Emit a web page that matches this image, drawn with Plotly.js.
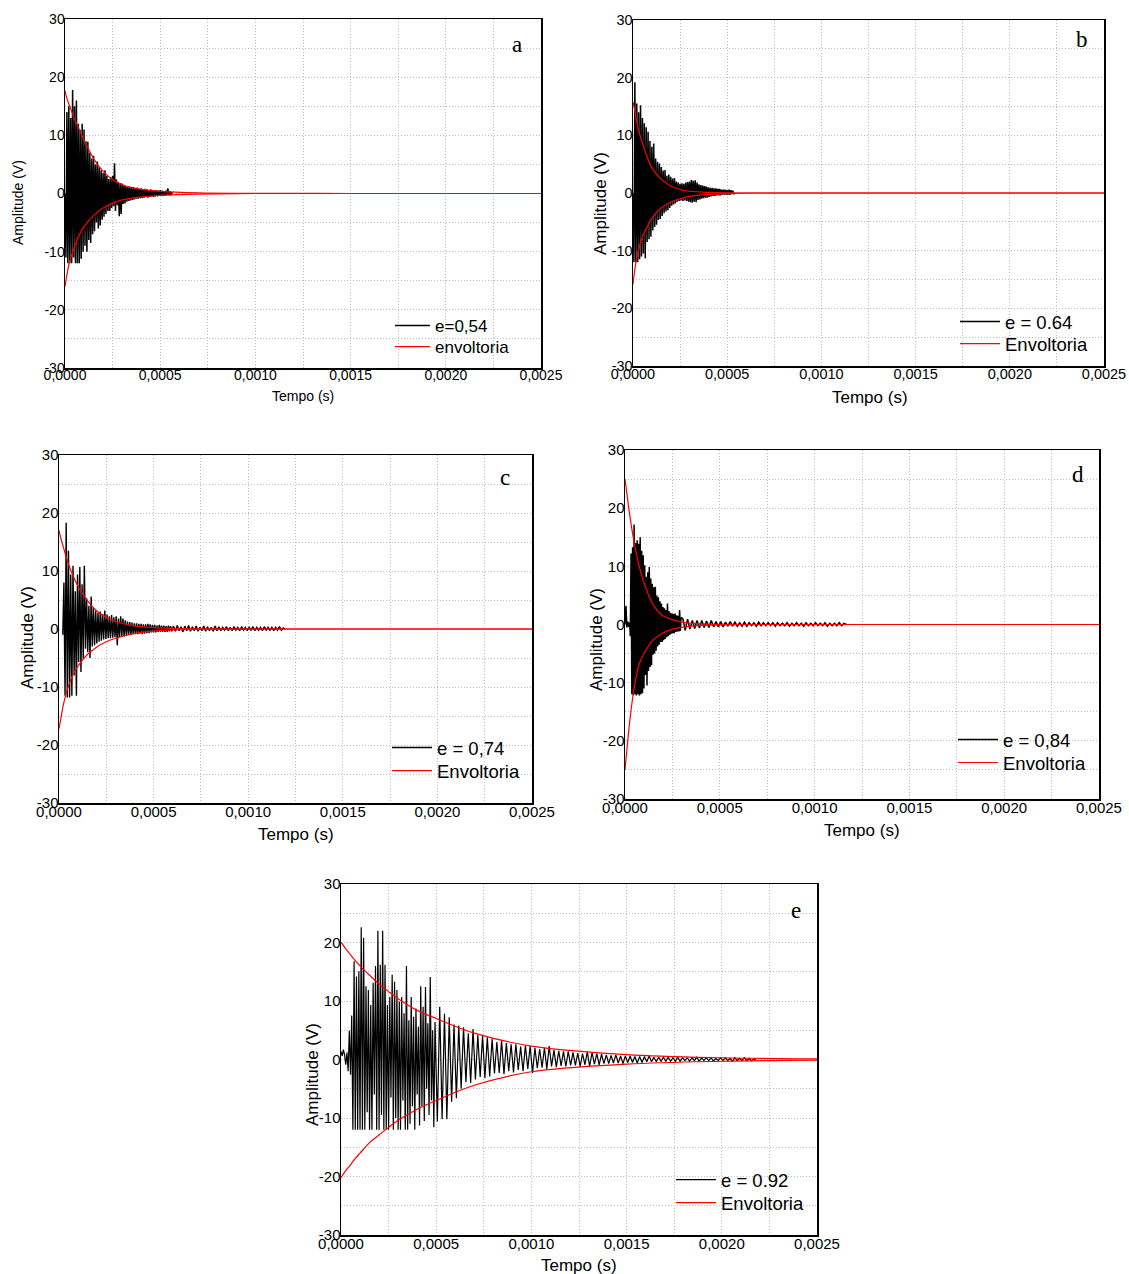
<!DOCTYPE html>
<html><head><meta charset="utf-8">
<script src="https://cdn.plot.ly/plotly-3.0.1.min.js"></script>
<style>html,body{margin:0;padding:0;background:#fff}</style>
</head><body><div id="chart" style="width:1129px;height:1274px"></div>
<script>
// ---------------- DATA ----------------
const xTickVals = [0, 0.0005, 0.0010, 0.0015, 0.0020, 0.0025];
const xTickText = ['0,0000', '0,0005', '0,0010', '0,0015', '0,0020', '0,0025'];
const yTickVals = [-30, -20, -10, 0, 10, 20, 30];
const yTickText = ['-30', '-20', '-10', '0', '10', '20', '30'];

const seriesNames = ['e=0,54', 'e = 0.64', 'e = 0,74', 'e = 0,84', 'e = 0.92'];
const envNames = ['envoltoria', 'Envoltoria', 'Envoltoria', 'Envoltoria', 'Envoltoria'];
const panelLetters = ['a', 'b', 'c', 'd', 'e'];

// envelope sample times (s)
const envT = [0, 1e-5, 2.5e-5, 5e-5, 7.5e-5, 1e-4, 1.5e-4, 2e-4, 2.5e-4, 3e-4, 4e-4, 5e-4, 7e-4, 1e-3, 1.5e-3, 2e-3, 2.5e-3];
const envUpA = [17.7, 16.3, 15, 12.8, 11, 9.2, 6, 3.8, 2.4, 1.5, 0.7, 0.35, 0.1, 0.02, 0, 0, 0];
const envLoA = [-16, -14, -11.6, -9.2, -7.1, -5.7, -3.8, -2.5, -1.65, -1.1, -0.6, -0.3, -0.1, 0, 0, 0, 0];
const envUpB = [15.8, 14.2, 11.5, 8.6, 6.3, 4.4, 2.4, 1.2, 0.6, 0.3, 0.1, 0.03, 0, 0, 0, 0, 0];
const envLoB = [-15.8, -13.2, -10.4, -7.6, -5.9, -4.4, -2.6, -1.6, -1, -0.6, -0.25, -0.1, 0, 0, 0, 0, 0];
const envUpC = [17, 15.6, 13.9, 11.2, 9.1, 7.4, 4.9, 3.1, 2, 1.3, 0.55, 0.25, 0.05, 0, 0, 0, 0];
const envLoC = [-17.2, -15.4, -12.8, -9.8, -7.8, -6.4, -4.4, -3.1, -2.2, -1.6, -0.75, -0.35, -0.08, 0, 0, 0, 0];
const envUpD = [25, 22.5, 18.8, 13.8, 10, 7.2, 3.3, 1.5, 0.85, 0.4, 0.1, 0.03, 0, 0, 0, 0, 0];
const envLoD = [-25, -21.5, -16.6, -10.6, -6.8, -5, -2.6, -1.45, -0.8, -0.5, -0.15, -0.05, 0, 0, 0, 0, 0];
const envUpE = [20, 19.6, 18.9, 17.9, 16.9, 16, 14.4, 12.9, 11.6, 10.4, 8.4, 7, 4.5, 2.3, 0.85, 0.3, 0.1];
const envLoE = [-20.2, -19.7, -19, -18, -16.9, -16, -14.2, -12.9, -11.6, -10.4, -8.5, -7, -4.4, -2.1, -0.8, -0.3, -0.1];

// sampled signals: start time, sample step, values (V)
const sigA_t0 = 0, sigA_dt = 5e-6;
const sigA = [0, -11, 14, -12, 15, -12, 13, -12, 17.8, -11, 15, -12, 16, -12, 12, -12,
  10.9, -11.2, 12, -10, 11, -9, 9, -10,
  8.9, -8, 7, -8.5, 6, -7, 6.5, -6.5,
  5, -5, 5.5, -6, 4.5, -5.5, 4, -4.5,
  3.5, -4, 4, -3.5, 3, -3, 2.5, -3,
  2.8, -2.5, 3, -2.2, 5.2, -3, 2.4, -2,
  2, -3.9, 1.8, -3.5, 1.7, -1.8, 1.5, -1.7,
  1.3, -1.4, 1.2, -1.3, 1.1, -1.2, 1, -1.1,
  1.1, -1, 0.9, -0.9, 1, -0.9, 0.8, -0.8,
  0.9, -0.8, 0.7, -0.7, 0.8, -0.6, 0.7, -0.7,
  0.6, -0.6, 0.7, -0.5, 0.6, -0.6, 0.5, -0.5,
  0.6, -0.5, 0.5, -0.4, 0.6, -0.4, 0.5, -0.4,
  0.4, -0.4, 0.5, -0.3, 0.9, -0.3, 0.4, -0.3, 0.2, 0];

const sigB_t0 = 0, sigB_dt = 5e-6;
const sigB = [0, -12, 19.2, -12, 15.5, -12, 14, -11.5, 15.2, -11,
  13, -10.5, 12.1, -11.3, 11.4, -8.5, 10.6, -8, 9, -7.6,
  8, -6.5, 8.6, -5.9, 6, -5.5, 5.4, -4.7, 5.1, -4.5,
  4.5, -4, 3.9, -3.5, 4, -3.2, 3, -3, 3.2, -2.6,
  2.8, -2.2, 2.5, -2, 2.6, -1.8, 2, -1.5, 1.8, -1.4,
  1.6, -1.3, 1.7, -1.4, 1.6, -1.3, 1.8, -1.4, 1.9, -1.5,
  2, -1.6, 2.3, -1.7, 2.1, -1.5, 2.2, -1.6, 1.8, -1.2,
  1.5, -1.1, 1.4, -1, 1.3, -0.9, 1.2, -0.8, 1.1, -0.8,
  1, -0.7, 0.9, -0.6, 0.9, -0.5, 0.8, -0.5, 0.8, -0.4,
  0.7, -0.4, 0.7, -0.4, 0.6, -0.3, 0.6, -0.3, 0.6, -0.3,
  0.5, -0.3, 0.6, -0.3, 0.5, -0.2, 0.4, -0.2, 0];

const sigC1_t0 = 2e-5, sigC1_dt = 6e-6;
const sigC1 = [-1, 8, -11.5, 18.3, -11.8, 13.5, -11.8, 9.4, -11.5, 10.9,
  -8, 6.5, -11.5, 9.4, -5.7, 10.7, -7.4, 7.7, -5.1, 10.9,
  -3.4, 5.3, -4, 4, -5, 5.6, -3, 3.6, -2.8, 3.2,
  -2.5, 2.8, -2.2, 3, -2, 2.6, -1.8, 3.2, -1.7, 2.5,
  -1.6, 2.2, -1.6, 2.4, -1.5, 2, -1.4, 2.2, -2.8, 1.8,
  -1.4, 2.2, -1.2, 1.8, -1.3, 1.5, -1.1, 1.3, -1, 1.2,
  -1, 1.1, -0.9, 1, -0.9, 1, -0.9, 0.9, -0.8, 0.9,
  -0.9, 0.8, -0.8, 0.8, -0.7, 0.9, -0.7, 0.8, -0.6, 0.7,
  -0.6, 0.7, -0.6, 0.6, -0.5, 0.7, -0.5, 0.6, -0.5, 0.6,
  -0.5, 0.5, -0.5, 0.6, -0.4, 0.5, -0.4];
const sigC2_t0 = 6.05e-4, sigC2_dt = 1e-5;
const sigC2 = [0.5, -0.4, 0.6, -0.3, 0.4, -0.5, 0.5, -0.3, 0.6, -0.4,
  0.4, -0.3, 0.5, -0.4, 0.3, -0.3, 0.5, -0.4, 0.4, -0.3,
  0.3, -0.4, 0.5, -0.3, 0.4, -0.3, 0.3, -0.2, 0.4, -0.3,
  0.3, -0.3, 0.4, -0.2, 0.3, -0.3, 0.4, -0.2, 0.3, -0.3,
  0.3, -0.2, 0.4, -0.3, 0.3, -0.2, 0.3, -0.3, 0.4, -0.2,
  0.3, -0.2, 0.3, -0.3, 0.3, -0.2, 0.4, -0.2, 0.2, 0];

const sigD0_t0 = 0, sigD0_dt = 5e-6;
const sigD0 = [0, 3.2, -0.5, 0.5, -0.4, 0.3];
const sigD1_t0 = 2.8e-5, sigD1_dt = 4e-6;
const sigD1 = [-2, 12.2, -12, 13.3, -12.2, 17.2, -12, 14, -12.2, 14.5,
  -12, 13.9, -12.2, 15, -12, 12.7, -11.8, 11.9, -11, 10.2,
  -8.7, 8.2, -10.5, 9, -8, 9.9, -7.3, 7.9, -7, 7,
  -5.2, 6.4, -5, 6.5, -4.5, 5, -3.8, 4.7, -3.5, 4,
  -3, 3.6, -3, 3, -2.7, 2.8, -2.5, 2.5, -2.2, 3.6,
  -2, 2.3, -1.8, 2, -1.6, 1.9, -1.5, 1.8, -1.5, 1.9,
  -1.3, 1.6, -1.2, 1.5, -1.2, 2.5, -1.1, 1.2];
const sigD2_t0 = 3.05e-4, sigD2_dt = 1.25e-5;
const sigD2 = [1, -1, 0.9, -0.8, 0.7, -0.7, 0.7, -0.6, 0.7, -0.5,
  0.6, -0.5, 0.7, -0.4, 0.5, -0.4, 0.5, -0.4, 0.4, -0.3,
  0.5, -0.3, 0.4, -0.3, 0.3, -0.3, 0.4, -0.3, 0.3, -0.2,
  0.3, -0.3, 0.4, -0.2, 0.3, -0.2, 0.3, -0.2, 0.3, -0.3,
  0.3, -0.2, 0.2, -0.2, 0.3, -0.3, 0.2, -0.2, 0.3, -0.2,
  0.2, -0.3, 0.3, -0.2, 0.2, -0.2, 0.3, -0.2, 0.2, -0.2,
  0.3, -0.3, 0.2, -0.2, 0.2, -0.2, 0.3, -0.2, 0.2, 0];

const sigE1_t0 = 0, sigE1_dt = 6.25e-6;
const sigE1 = [1.4, 0.6, 1.7, 0.8, -0.9, 1.2, -2, 4.9, -2.6, 7.5,
  -12, 16.8, -12, 14.2, -12, 15.1, -12, 22.6, -12, 20.8,
  -12, 12.5, -9, 11.9, -12, 9.3, -12, 13.1, -6, 16,
  -12, 22, -12, 16.2, -9.5, 22, -12, 16.2, -12, 9.3,
  -12, 10.7, -6.5, 14.5, -12, 13.3, -10, 11.9, -12, 9.9,
  -12, 10.7, -7, 7.9, -12, 16, -12, 6.7, -11, 10.7,
  -8, 7.3, -12, 8.7, -6, 5.6, -11.3, 12.5, -8, 9,
  -10.5, 12.4, -5, 6.2, -9.5, 14.1, -7, 5, -11.6, 6.4];
const sigE2_t0 = 5.06e-4, sigE2_dt = 1.25e-5;
const sigE2 = [-10.6, 9, -10.2, 7.8, -10.2, 7.2, -7.2, 6, -6.6, 5.8,
  -5, 5.5, -3.9, 4.5, -4, 5.2, -3.4, 4.2, -3, 4,
  -3.2, 3.8, -2.9, 3.5, -2.4, 3, -2.3, 3.2, -2.5, 2.8,
  -2, 2.6, -2.2, 2.6, -1.8, 2.2, -2, 2.4, -1.6, 2.3,
  -2.3, 2, -1.5, 1.8, -1.4, 2, -1.6, 2.3, -1.2, 1.6,
  -1.3, 1.5, -1.1, 1.4, -1.2, 1.4, -1, 1.2, -1, 1.1,
  -1.2, 1, -0.9, 1.3, -1.2, 1.2, -0.8, 1, -0.9, 0.9,
  -0.7, 0.8, -0.7, 0.7, -0.6, 0.8, -0.6, 0.6, -0.7, 0.6,
  -0.5, 0.6, -0.5, 0.5, -0.6, 0.5, -0.5, 0.5, -0.4, 0.6,
  -0.4, 0.4, -0.4, 0.4, -0.3, 0.4, -0.3, 0.4, -0.3, 0.3,
  -0.3, 0.4, -0.3, 0.3, -0.2, 0.3, -0.3, 0.3, -0.2, 0.4,
  -0.3, 0.3, -0.2, 0.3, -0.2, 0.3, -0.3, 0.2, -0.2, 0.3,
  -0.2, 0.3, -0.2, 0.2, -0.3, 0.3, -0.2, 0.2, -0.2, 0.3,
  -0.2, 0.2, -0.2, 0.1, 0];

// ---------------- BUILD ----------------
function sampled(segs) {
  const x = [], y = [];
  segs.forEach(([t0, dt, v]) => v.forEach((val, i) => { x.push(t0 + i * dt); y.push(val); }));
  return {x, y};
}
const signals = [
  sampled([[sigA_t0, sigA_dt, sigA]]),
  sampled([[sigB_t0, sigB_dt, sigB]]),
  sampled([[sigC1_t0, sigC1_dt, sigC1], [sigC2_t0, sigC2_dt, sigC2]]),
  sampled([[sigD0_t0, sigD0_dt, sigD0], [sigD1_t0, sigD1_dt, sigD1], [sigD2_t0, sigD2_dt, sigD2]]),
  sampled([[sigE1_t0, sigE1_dt, sigE1], [sigE2_t0, sigE2_dt, sigE2]])
];
const envUp = [envUpA, envUpB, envUpC, envUpD, envUpE];
const envLo = [envLoA, envLoB, envLoC, envLoD, envLoE];

// layout geometry (pixels)
const W = 1129, H = 1274;
const fx = p => p / W, fy = p => 1 - p / H;
const panels = [
  {l: 65, r: 541, t: 19, b: 368, tick: 14, ttl: 14, xt: [303, 396], yt: [18, 203], let: [517, 44], leg: [395, 326, 347], lf: 17, iw: 35, sw: 1.5},
  {l: 633, r: 1104, t: 20, b: 366, tick: 14.5, ttl: 17, xt: [870, 397], yt: [601, 204], let: [1082, 40], leg: [960, 322, 344], lf: 18.5, iw: 40, sw: 1.5},
  {l: 59, r: 532, t: 455, b: 803, tick: 15, ttl: 17, xt: [296, 834], yt: [28, 638], let: [505, 477], leg: [392, 748, 771], lf: 18.5, iw: 40, sw: 1.4},
  {l: 625, r: 1099, t: 450, b: 799, tick: 15, ttl: 17, xt: [862, 830], yt: [596, 640], let: [1078, 475], leg: [958, 740, 763], lf: 18.5, iw: 40, sw: 1.5},
  {l: 341, r: 817, t: 884, b: 1235, tick: 15, ttl: 17, xt: [579, 1265], yt: [312, 1075], let: [796, 910], leg: [676, 1180, 1203], lf: 18.5, iw: 40, sw: 1.2}
];

const FONT = 'Liberation Sans, Arial, sans-serif';
const SERIF = 'Liberation Serif, Times New Roman, serif';
const GRID = '#bdbdbd';
const DOTS = '1px,2px';
const traces = [];
const layout = {
  width: W, height: H, margin: {l: 0, r: 0, t: 0, b: 0},
  paper_bgcolor: '#fff', plot_bgcolor: '#fff', showlegend: true,
  font: {family: FONT, color: '#000'},
  annotations: []
};

panels.forEach((p, k) => {
  const s = k === 0 ? '' : String(k + 1);
  const lgA = 'legend' + (k === 0 ? '' : String(2 * k + 1));
  const lgB = 'legend' + String(2 * k + 2);
  traces.push({type: 'scatter', mode: 'lines', x: signals[k].x, y: signals[k].y,
    xaxis: 'x' + s, yaxis: 'y' + s, name: seriesNames[k], legend: lgA,
    line: {color: '#000', width: p.sw, simplify: false}, hoverinfo: 'skip'});
  traces.push({type: 'scatter', mode: 'lines', x: envT, y: envUp[k],
    xaxis: 'x' + s, yaxis: 'y' + s, name: envNames[k], legend: lgB, legendgroup: 'env' + k,
    line: {color: '#ff0000', width: 1.2, shape: 'spline'}, hoverinfo: 'skip'});
  traces.push({type: 'scatter', mode: 'lines', x: envT, y: envLo[k],
    xaxis: 'x' + s, yaxis: 'y' + s, name: envNames[k], legend: lgB, legendgroup: 'env' + k, showlegend: false,
    line: {color: '#ff0000', width: 1.2, shape: 'spline'}, hoverinfo: 'skip'});

  const common = {showline: true, mirror: true, linecolor: '#000', linewidth: 1.5, ticks: '',
    showgrid: true, gridcolor: GRID, griddash: DOTS, gridwidth: 1, zeroline: false, fixedrange: true,
    tickfont: {family: FONT, size: p.tick, color: '#000'}, tickmode: 'array'};
  layout['xaxis' + s] = Object.assign({}, common, {domain: [fx(p.l), fx(p.r)], range: [0, 0.0025],
    anchor: 'y' + s, tickvals: xTickVals, ticktext: xTickText, ticklabelstandoff: -6,
    minor: {tickmode: 'linear', tick0: 0, dtick: 0.00025, showgrid: true, gridcolor: GRID, griddash: DOTS, gridwidth: 1, ticks: ''}});
  layout['yaxis' + s] = Object.assign({}, common, {domain: [fy(p.b), fy(p.t)], range: [-30, 30],
    anchor: 'x' + s, tickvals: yTickVals, ticktext: yTickText, ticklabelstandoff: -4,
    minor: {tickmode: 'linear', tick0: 0, dtick: 5, showgrid: true, gridcolor: GRID, griddash: DOTS, gridwidth: 1, ticks: ''}});

  const legBase = {xanchor: 'left', yanchor: 'middle', bgcolor: 'rgba(0,0,0,0)', borderwidth: 0,
    itemwidth: p.iw, font: {family: FONT, size: p.lf, color: '#000'}};
  layout[lgA] = Object.assign({}, legBase, {x: fx(p.leg[0] - 5), y: fy(p.leg[1])});
  layout[lgB] = Object.assign({}, legBase, {x: fx(p.leg[0] - 5), y: fy(p.leg[2])});

  layout.annotations.push({xref: 'paper', yref: 'paper', x: fx(p.xt[0]), y: fy(p.xt[1]), text: 'Tempo (s)',
    showarrow: false, xanchor: 'center', yanchor: 'middle', font: {family: FONT, size: p.ttl, color: '#000'}});
  layout.annotations.push({xref: 'paper', yref: 'paper', x: fx(p.yt[0]), y: fy(p.yt[1]), text: 'Amplitude (V)',
    showarrow: false, xanchor: 'center', yanchor: 'middle', textangle: -90, font: {family: FONT, size: p.ttl, color: '#000'}});
  layout.annotations.push({xref: 'paper', yref: 'paper', x: fx(p.let[0]), y: fy(p.let[1]), text: panelLetters[k],
    showarrow: false, xanchor: 'center', yanchor: 'middle', font: {family: SERIF, size: 23, color: '#000'}});
});

Plotly.newPlot('chart', traces, layout, {staticPlot: true, displayModeBar: false});
</script></body></html>
